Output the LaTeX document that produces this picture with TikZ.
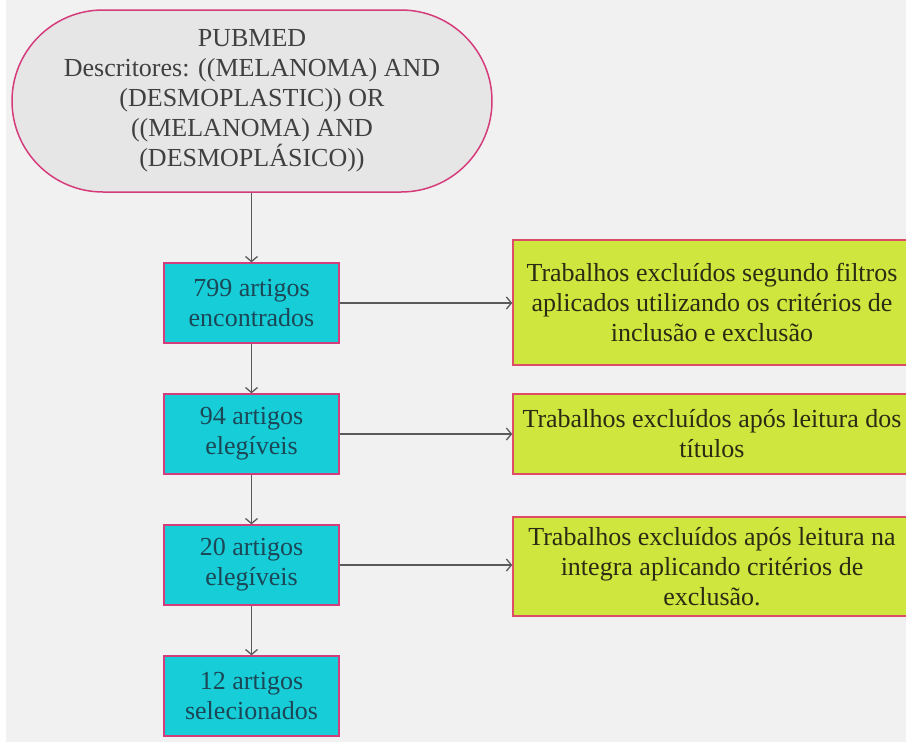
\documentclass[tikz,border=0pt]{standalone}
\usepackage{fontspec}
\setmainfont{Liberation Serif}
\newfontfamily\flowfont{Liberation Serif}
\usetikzlibrary{arrows.meta, shapes.misc, positioning}

\definecolor{bggray}{HTML}{F1F1F1}
\definecolor{startfill}{HTML}{E6E6E6}
\definecolor{pinkline}{HTML}{D53C7C}
\definecolor{redline}{HTML}{DE4C66}
\definecolor{cyanfill}{HTML}{17CDD7}
\definecolor{cyantext}{HTML}{1B4756}
\definecolor{limefill}{HTML}{CFE63E}
\definecolor{limetext}{HTML}{2B2B14}
\definecolor{arrowgray}{HTML}{5A5A5A}

\begin{document}
\begin{tikzpicture}[x=1pt, y=-1pt,
  every node/.style={font=\flowfont\fontsize{26}{30}\selectfont, align=center, inner sep=0pt},
  startbox/.style={rounded rectangle, draw=pinkline, line width=1.5pt, fill=startfill,
    text=black!75, minimum width=480pt, minimum height=182pt},
  countbox/.style={rectangle, draw=pinkline, line width=1.3pt, fill=cyanfill,
    text=cyantext, minimum width=175pt, minimum height=80pt},
  exclbox/.style={rectangle, draw=redline, line width=1.5pt, fill=limefill,
    text=limetext, minimum width=398pt},
  flow/.style={draw=arrowgray, line width=1.3pt, -{Straight Barb[length=5pt, width=12pt]}}
]
% Page and background
\useasboundingbox (0,0) rectangle (906,742);
\fill[white] (0,0) rectangle (906,742);
\fill[bggray] (6,0) rectangle (906,742);
\clip (0,0) rectangle (906,742);

% Search box
\node[startbox] (pubmed) at (252,101) {PUBMED\\Descritores: ((MELANOMA) AND\\(DESMOPLASTIC)) OR\\((MELANOMA) AND\\(DESMOPLÁSICO))};

% Counts down the left
\node[countbox] (found) at (251.5,303) {799 artigos\\encontrados};
\node[countbox] (elig1) at (251.5,434) {94 artigos\\elegíveis};
\node[countbox] (elig2) at (251.5,565) {20 artigos\\elegíveis};
\node[countbox] (sel) at (251.5,696) {12 artigos\\selecionados};

% Exclusions on the right
\node[exclbox, minimum height=125pt] (exclA) at (712,302.5) {Trabalhos excluídos segundo filtros\\aplicados utilizando os critérios de\\inclusão e exclusão};
\node[exclbox, minimum height=80pt] (exclB) at (712,434) {Trabalhos excluídos após leitura dos\\títulos};
\node[exclbox, minimum height=99pt] (exclC) at (712,566.5) {Trabalhos excluídos após leitura na\\integra aplicando critérios de\\exclusão.};

% Arrows
\draw[flow] (pubmed.south -| found.north) -- (found.north);
\draw[flow] (found) -- (elig1);
\draw[flow] (elig1) -- (elig2);
\draw[flow] (elig2) -- (sel);
\draw[flow] (found.east) -- (found.east -| exclA.west);
\draw[flow] (elig1.east) -- (elig1.east -| exclB.west);
\draw[flow] (elig2.east) -- (elig2.east -| exclC.west);
\end{tikzpicture}
\end{document}
